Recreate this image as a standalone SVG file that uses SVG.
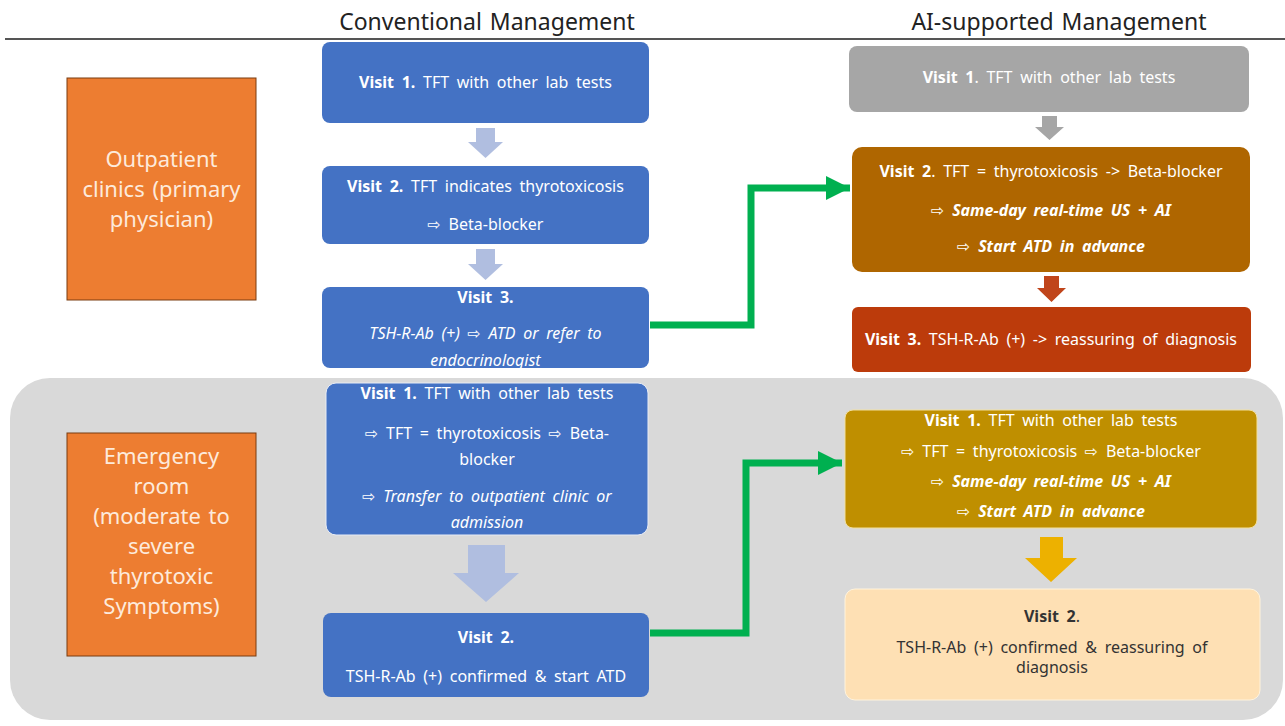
<svg xmlns="http://www.w3.org/2000/svg" width="1285" height="726" viewBox="0 0 1285 726">
<style>
text{font-family:"Noto Sans","DejaVu Sans",sans-serif;font-size:16px;fill:#fff;text-anchor:middle;word-spacing:3.5px}
.h{font-size:23px;fill:#222;word-spacing:2px}
.side{font-size:22px;fill:#fdeadb;word-spacing:2px}
.b{font-weight:bold}
.i{font-style:italic}
.bi{font-weight:bold;font-style:italic}
.dark{fill:#333}
.blue{fill:#4472C4}
.side-box{fill:#ED7D31;stroke:#7a3d10;stroke-width:1}
.conn{fill:none;stroke:#00B050;stroke-width:7}
</style>
<defs>
<marker id="ah" markerUnits="userSpaceOnUse" markerWidth="26" markerHeight="26" refX="24" refY="12" orient="auto">
<path d="M0,0 L24,12 L0,24 Z" fill="#00B050"/>
</marker>
</defs>
<rect width="1285" height="726" fill="#fff"/>

<g id="header">
<text class="h" x="487" y="30">Conventional Management</text>
<text class="h" x="1059" y="30">AI-supported Management</text>
<line x1="5" y1="39" x2="1285" y2="39" stroke="#555" stroke-width="2"/>
</g>

<g id="er-background">
<rect x="10" y="378" width="1273" height="342" rx="40" fill="#d9d9d9"/>
</g>

<g id="outpatient">
<rect class="side-box" x="67" y="78" width="189" height="222"/>
<text class="side" x="161.5" y="167">Outpatient</text>
<text class="side" x="161.5" y="197">clinics (primary</text>
<text class="side" x="161.5" y="227">physician)</text>
</g>

<g id="emergency">
<rect class="side-box" x="67" y="433" width="189" height="223"/>
<text class="side" x="161.5" y="464">Emergency</text>
<text class="side" x="161.5" y="494">room</text>
<text class="side" x="161.5" y="524">(moderate to</text>
<text class="side" x="161.5" y="554">severe</text>
<text class="side" x="161.5" y="584">thyrotoxic</text>
<text class="side" x="161.5" y="614">Symptoms)</text>
</g>

<g id="conv-op-v1">
<rect class="blue" x="322" y="42" width="327" height="81" rx="8"/>
<text x="485.5" y="88"><tspan class="b">Visit 1.</tspan> TFT with other lab tests</text>
</g>
<g id="conv-op-v2">
<rect class="blue" x="322" y="166" width="327" height="78" rx="8"/>
<text x="485.5" y="192"><tspan class="b">Visit 2.</tspan> TFT indicates thyrotoxicosis</text>
<text x="485.5" y="230">⇨ Beta-blocker</text>
</g>
<g id="conv-op-v3">
<rect class="blue" x="322" y="287" width="327" height="81" rx="8"/>
<text class="b" x="485.5" y="303">Visit 3.</text>
<text class="i" x="485.5" y="339">TSH-R-Ab (+) ⇨ ATD or refer to</text>
<text class="i" x="485.5" y="366">endocrinologist</text>
</g>

<g id="ai-op-v1">
<rect x="849" y="46" width="400" height="66" rx="8" fill="#a6a6a6"/>
<text x="1049" y="83"><tspan class="b">Visit 1</tspan>. TFT with other lab tests</text>
</g>
<g id="ai-op-v2">
<rect x="852" y="147" width="398" height="125" rx="10" fill="#AF6600"/>
<text x="1051" y="177"><tspan class="b">Visit 2</tspan>. TFT = thyrotoxicosis -&gt; Beta-blocker</text>
<text x="1051" y="216">⇨ <tspan class="bi">Same-day real-time US + AI</tspan></text>
<text x="1051" y="252">⇨ <tspan class="bi">Start ATD in advance</tspan></text>
</g>
<g id="ai-op-v3">
<rect x="852" y="307" width="399" height="65" rx="6" fill="#BC3B0B"/>
<text x="1051" y="345"><tspan class="b">Visit 3.</tspan> TSH-R-Ab (+) -&gt; reassuring of diagnosis</text>
</g>

<g id="conv-er-v1">
<rect class="blue" x="326" y="383" width="322" height="152" rx="10" stroke="#e8ecf5" stroke-width="1"/>
<text x="487" y="399"><tspan class="b">Visit 1.</tspan> TFT with other lab tests</text>
<text x="487" y="439">⇨ TFT = thyrotoxicosis ⇨ Beta-</text>
<text x="487" y="465">blocker</text>
<text x="487" y="502" class="i">⇨ Transfer to outpatient clinic or</text>
<text x="487" y="528" class="i">admission</text>
</g>
<g id="conv-er-v2">
<rect class="blue" x="323" y="613" width="326" height="84" rx="8"/>
<text class="b" x="486" y="643">Visit 2.</text>
<text x="486" y="682">TSH-R-Ab (+) confirmed &amp; start ATD</text>
</g>

<g id="ai-er-v1">
<rect x="845" y="410" width="412" height="118" rx="8" fill="#BF8F00" stroke="#f2e0a0" stroke-width="1"/>
<text x="1051" y="426"><tspan class="b">Visit 1.</tspan>  TFT with other lab tests</text>
<text x="1051" y="457">⇨ TFT = thyrotoxicosis ⇨ Beta-blocker</text>
<text x="1051" y="487">⇨ <tspan class="bi">Same-day real-time US + AI</tspan></text>
<text x="1051" y="517">⇨ <tspan class="bi">Start ATD in advance</tspan></text>
</g>
<g id="ai-er-v2">
<rect x="845" y="589" width="415" height="111" rx="10" fill="#FEE0B4" stroke="#fff3dc" stroke-width="1"/>
<text class="b dark" x="1052" y="622">Visit 2<tspan style="font-weight:normal">.</tspan></text>
<text class="dark" x="1052" y="653">TSH-R-Ab (+) confirmed &amp; reassuring of</text>
<text class="dark" x="1052" y="673">diagnosis</text>
</g>

<g id="connectors">
<path d="M476,128 H495 V142 H503 L485.5,158 L468,142 H476 Z" fill="#B0BEE0"/>
<path d="M476,249 H495 V264 H503 L485.5,280 L468,264 H476 Z" fill="#B0BEE0"/>
<path d="M1042,116 H1057 V127 H1064 L1049.5,140 L1035,127 H1042 Z" fill="#a6a6a6"/>
<path d="M1044,276 H1059 V288 H1066 L1051.5,302 L1037,288 H1044 Z" fill="#C0451B"/>
<path d="M468,545 H505 V573 H519 L486,602 L453,573 H468 Z" fill="#B0BEE0"/>
<path d="M1040,537 H1063 V558 H1077 L1051,582 L1025,558 H1040 Z" fill="#EDB100"/>
<path class="conn" d="M650,325 H751 V188 H850" marker-end="url(#ah)"/>
<path class="conn" d="M650,633 H746 V463 H842" marker-end="url(#ah)"/>
</g>
</svg>
